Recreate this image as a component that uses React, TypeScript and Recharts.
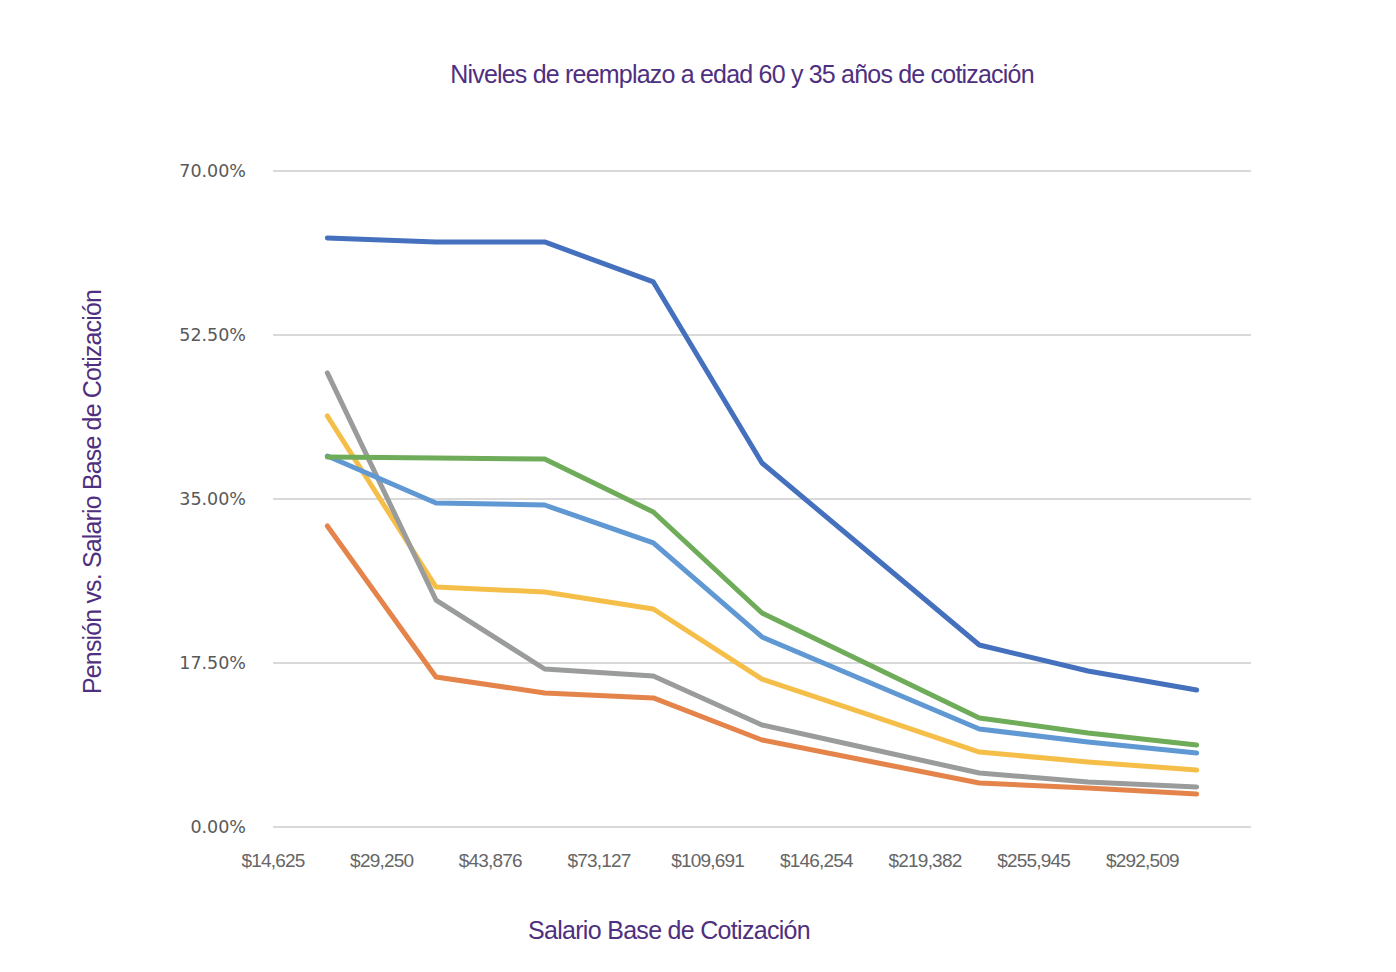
import React from 'react';
import { LineChart, Line, XAxis, YAxis, CartesianGrid } from 'recharts';

const salaryLabels = ['$14,625', '$29,250', '$43,876', '$73,127', '$109,691', '$146,254', '$219,382', '$255,945', '$292,509'];

const seriesDarkBlue = [62.85, 62.43, 62.43, 58.16, 38.84, 29.13, 19.42, 16.65, 14.62];
const seriesGreen = [39.48, 39.38, 39.27, 33.61, 22.84, 17.23, 11.63, 10.03, 8.75];
const seriesLightBlue = [39.59, 34.57, 34.36, 30.31, 20.28, 15.37, 10.46, 9.07, 7.9];
const seriesYellow = [43.86, 25.61, 25.08, 23.26, 15.79, 11.9, 8.0, 6.94, 6.08];
const seriesGray = [48.45, 24.22, 16.86, 16.11, 10.88, 8.32, 5.76, 4.8, 4.27];
const seriesOrange = [32.12, 16.01, 14.3, 13.77, 9.28, 6.99, 4.7, 4.16, 3.52];

const yTicks = [0, 17.5, 35, 52.5, 70];

const data = salaryLabels.map((label, i) => ({
  x: i + 0.5,
  label,
  darkBlue: seriesDarkBlue[i],
  green: seriesGreen[i],
  lightBlue: seriesLightBlue[i],
  yellow: seriesYellow[i],
  gray: seriesGray[i],
  orange: seriesOrange[i],
}));

const purple = '#4f2f80';

const lines = [
  { key: 'orange', color: '#e4844a' },
  { key: 'yellow', color: '#f5be48' },
  { key: 'gray', color: '#9a9c9c' },
  { key: 'lightBlue', color: '#5f98d2' },
  { key: 'green', color: '#6eac59' },
  { key: 'darkBlue', color: '#4470bd' },
];

export default function App() {
  return (
    <div
      style={{
        margin: -8,
        width: 1396,
        height: 972,
        background: '#eeebf3',
        position: 'relative',
        overflow: 'hidden',
        fontFamily: '"Liberation Sans", Arial, sans-serif',
      }}
    >
      <div style={{ position: 'absolute', left: 7, top: 5, right: 0, bottom: 0, background: '#ffffff' }} />

      <div
        style={{
          position: 'absolute',
          left: 0,
          width: 1484,
          top: 60,
          textAlign: 'center',
          fontSize: 25,
          letterSpacing: -0.8,
          color: purple,
        }}
      >
        Niveles de reemplazo a edad 60 y 35 años de cotización
      </div>

      <div
        style={{
          position: 'absolute',
          left: 0,
          width: 1338,
          top: 916,
          textAlign: 'center',
          fontSize: 25,
          letterSpacing: -0.7,
          color: purple,
        }}
      >
        Salario Base de Cotización
      </div>

      <div
        style={{
          position: 'absolute',
          left: 92 - 250,
          top: 492 - 16,
          width: 500,
          height: 32,
          lineHeight: '32px',
          textAlign: 'center',
          fontSize: 25,
          letterSpacing: -0.85,
          color: purple,
          transform: 'rotate(-90deg)',
        }}
      >
        Pensión vs. Salario Base de Cotización
      </div>

      <div style={{ position: 'absolute', left: 0, top: 0 }}>
        <LineChart
          width={1396}
          height={972}
          data={data}
          margin={{ top: 171, right: 145, bottom: 115, left: 193 }}
        >
          <CartesianGrid vertical={false} stroke="#d9d9d9" strokeWidth={2} />
          <XAxis
            type="number"
            dataKey="x"
            domain={[0, 9]}
            ticks={[0, 1, 2, 3, 4, 5, 6, 7, 8]}
            tickFormatter={(v: number) => salaryLabels[v]}
            axisLine={false}
            tickLine={false}
            tickSize={0}
            tickMargin={27}
            height={30}
            interval={0}
            tick={{ fill: '#666666', fontSize: 19, letterSpacing: -0.8, fontFamily: '"Liberation Sans", Arial, sans-serif' }}
          />
          <YAxis
            type="number"
            domain={[0, 70]}
            ticks={yTicks}
            tickFormatter={(v: number) => v.toFixed(2) + '%'}
            axisLine={false}
            tickLine={false}
            tickSize={0}
            tickMargin={27}
            width={80}
            interval={0}
            tick={{ fill: '#595959', fontSize: 17.5, fontFamily: '"DejaVu Sans", Verdana, sans-serif' }}
          />
          {lines.map((l) => (
            <Line
              key={l.key}
              type="linear"
              dataKey={l.key}
              stroke={l.color}
              strokeWidth={5}
              strokeLinecap="round"
              strokeLinejoin="round"
              dot={false}
              activeDot={false}
              isAnimationActive={false}
            />
          ))}
        </LineChart>
      </div>
    </div>
  );
}
